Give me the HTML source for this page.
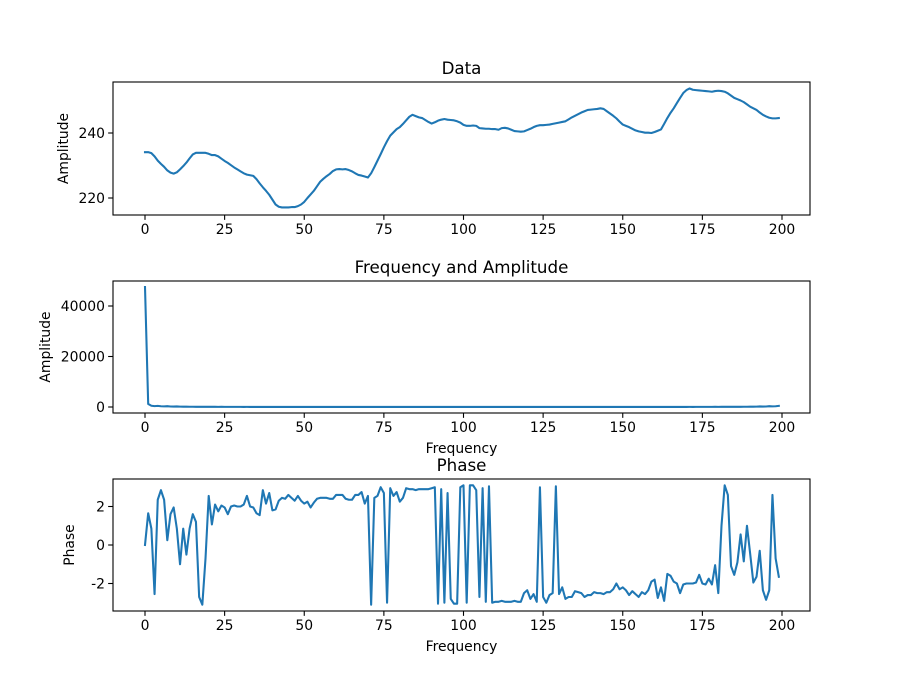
<!DOCTYPE html>
<html><head><meta charset="utf-8"><style>
html,body{margin:0;padding:0;background:#fff;}
svg text{font-family:"DejaVu Sans","Liberation Sans",sans-serif;fill:#000;}
</style></head><body>
<svg id="fig" width="900" height="687" viewBox="0 0 900 687" xmlns="http://www.w3.org/2000/svg">
<rect width="900" height="687" fill="#fff"/>
</svg>
<script>
const xIndex = Array.from({length:200},(_,i)=>i);
const dataValues = [234.1,234.1,233.8,232.8,231.5,230.5,229.6,228.5,227.8,227.5,227.9,228.8,229.8,230.9,232.2,233.4,233.9,233.9,233.9,233.9,233.6,233.2,233.2,232.8,232.1,231.4,230.8,230.1,229.4,228.8,228.2,227.6,227.2,227,226.8,225.8,224.5,223.3,222.2,221,219.5,218,217.3,217.1,217.1,217.1,217.2,217.2,217.5,218,218.8,220,221.1,222.2,223.6,225,225.9,226.7,227.4,228.3,228.8,228.9,228.8,228.9,228.6,228.2,227.6,227.1,226.9,226.6,226.3,227.6,229.5,231.5,233.5,235.6,237.5,239.2,240.2,241.2,241.8,242.8,243.9,245,245.6,245.2,244.8,244.6,244,243.4,242.9,243.3,243.8,244.1,244.3,244.1,244,243.9,243.6,243.2,242.5,242.2,242.2,242.3,242.2,241.5,241.4,241.3,241.3,241.2,241.2,241,241.5,241.6,241.4,241,240.6,240.5,240.4,240.5,240.9,241.3,241.8,242.2,242.4,242.4,242.5,242.6,242.8,243,243.2,243.4,243.6,244.2,244.8,245.3,245.8,246.3,246.7,247.1,247.2,247.3,247.4,247.6,247.4,246.7,246,245.3,244.5,243.5,242.6,242.2,241.8,241.3,240.8,240.5,240.3,240.1,240.1,240,240.3,240.7,241.1,242.8,244.6,246.2,247.6,249.2,250.8,252.3,253.2,253.7,253.3,253.2,253.1,253,252.9,252.8,252.7,252.9,253,252.9,252.7,252.2,251.5,250.8,250.4,250,249.5,248.8,248.1,247.6,247.1,246.3,245.6,245.1,244.7,244.5,244.5,244.6];
const ampValues = [47500,1200,500,350,450,300,250,320,200,160,230,150,120,110,90,100,80,90,70,80,60,70,60,55,60,50,55,50,45,50,45,40,45,40,40,35,40,35,35,30,35,30,30,30,30,30,28,28,28,28,25,25,25,25,25,25,25,25,25,25,25,25,25,25,25,25,25,25,25,25,25,25,25,25,25,25,25,25,25,25,25,25,25,25,25,25,25,25,25,25,25,25,25,25,25,25,25,25,25,25,25,25,25,25,25,25,25,25,25,25,25,25,25,25,25,25,25,25,25,25,25,25,25,25,25,25,25,25,25,25,25,25,25,25,25,25,25,25,25,25,25,25,25,25,25,25,25,25,25,25,25,25,25,25,28,28,28,28,30,30,30,30,30,35,30,35,35,40,35,40,40,45,40,45,50,45,50,55,50,60,55,60,70,60,80,70,90,80,100,90,110,120,150,230,160,200,320,250,300,450,350,500,1200];
const phaseValues = [0,1.65,0.85,-2.55,2.35,2.85,2.35,0.25,1.6,1.95,0.85,-1,0.85,-0.5,0.85,1.6,1.2,-2.7,-3.1,-0.7,2.55,1.07,2.1,1.75,2.05,1.95,1.6,2.0,2.05,2.0,2.0,2.1,2.55,2.0,1.95,1.65,1.55,2.85,2.15,2.7,1.8,1.85,2.3,2.45,2.4,2.6,2.45,2.3,2.55,2.3,2.15,2.25,1.95,2.2,2.4,2.45,2.45,2.45,2.4,2.4,2.6,2.6,2.6,2.4,2.35,2.35,2.6,2.6,2.75,2.15,2.55,-3.1,2.45,2.55,3.0,2.7,-3.0,2.95,2.55,2.75,2.25,2.45,2.95,2.9,2.9,2.85,2.9,2.9,2.9,2.9,2.95,3.0,-3.05,2.9,-3.0,2.7,-2.8,-3.05,-3.05,3.0,3.1,-3.0,3.1,3.1,2.85,-2.7,2.95,-2.95,3.05,-3.0,-2.95,-2.95,-2.9,-2.95,-2.95,-2.95,-2.9,-2.95,-2.95,-2.5,-2.35,-2.8,-2.55,-2.95,3.0,-2.7,-3.0,-2.6,-2.5,3.05,-2.55,-2.2,-2.8,-2.7,-2.7,-2.4,-2.45,-2.5,-2.7,-2.6,-2.6,-2.45,-2.5,-2.5,-2.55,-2.45,-2.45,-2.3,-2.0,-2.3,-2.2,-2.35,-2.6,-2.4,-2.55,-2.7,-2.45,-2.55,-2.35,-1.9,-1.8,-2.75,-2.2,-2.9,-1.5,-1.6,-1.9,-2.0,-2.5,-2.05,-2.0,-2.0,-2.0,-1.95,-1.55,-2.0,-2.05,-1.75,-2.05,-1.05,-2.5,1.0,3.1,2.6,-1.1,-1.55,-0.9,0.55,-0.85,1.0,-0.45,-1.95,-1.65,-0.3,-2.35,-2.85,-2.35,2.6,-0.7,-1.65];
const xTicks = [0,25,50,75,100,125,150,175,200];
const dataYTicks = [220,240];
const ampYTicks = [0,20000,40000];
const phaseYTicks = [-2,0,2];

const NS='http://www.w3.org/2000/svg';
const svg=document.getElementById('fig');
function mk(tag,attrs,parent){const e=document.createElementNS(NS,tag);for(const k in attrs)e.setAttribute(k,attrs[k]);(parent||svg).appendChild(e);return e;}
const L=113,R=810;
const xs=v=>145+(v-0)*(782-145)/200;

function panel(name,top,bot,yFn,ys,yTicks,title,ylabel,ylabelX,xlabel){
  const g=mk('g',{});
  
  
  let d='';
  xIndex.forEach((x,i)=>{d+=(i?'L':'M')+xs(x).toFixed(2)+' '+yFn(ys[i]).toFixed(2);});
  const line=mk('path',{d:d,fill:'none',stroke:'#1f77b4','stroke-width':2.08,'stroke-linejoin':'round','stroke-linecap':'square'},g);
  
  
  const frame=mk('rect',{x:L,y:top,width:R-L,height:bot-top,fill:'none',stroke:'#000','stroke-width':1.1},g);
  
  
  xTicks.forEach(t=>{
    const x=xs(t);
    mk('line',{x1:x,x2:x,y1:bot,y2:bot+4.86,stroke:'#000','stroke-width':1.1},g);
    const tx=mk('text',{x:x,y:bot+19,'text-anchor':'middle','font-size':'13.9px'},g);
    tx.textContent=t;
    
    
  });
  yTicks.forEach(t=>{
    const y=yFn(t);
    mk('line',{x1:L-4.86,x2:L,y1:y,y2:y,stroke:'#000','stroke-width':1.1},g);
    const tx=mk('text',{x:L-8,y:y+5,'text-anchor':'end','font-size':'13.9px'},g);
    tx.textContent=t;
    
    
  });
  const ti=mk('text',{x:(L+R)/2,y:top-8,'text-anchor':'middle','font-size':'16.7px'},g);
  ti.textContent=title;
  
  
  const yl=mk('text',{x:ylabelX,y:(top+bot)/2,'text-anchor':'middle','font-size':'13.9px',transform:'rotate(-90 '+ylabelX+' '+(top+bot)/2+')'},g);
  yl.textContent=ylabel;
  
  
  if(xlabel){
    const xl=mk('text',{x:(L+R)/2,y:bot+40,'text-anchor':'middle','font-size':'13.9px'},g);
    xl.textContent=xlabel;
    
    
  }
}
panel('data',82,215,v=>133-(v-240)*3.25,dataValues,dataYTicks,'Data','Amplitude',68,null);
panel('frequency',281,413,v=>407-v*101/40000,ampValues,ampYTicks,'Frequency and Amplitude','Amplitude',50,'Frequency');
panel('phase',479,611,v=>545-v*19.25,phaseValues,phaseYTicks,'Phase','Phase',74,'Frequency');
</script>
</body></html>
